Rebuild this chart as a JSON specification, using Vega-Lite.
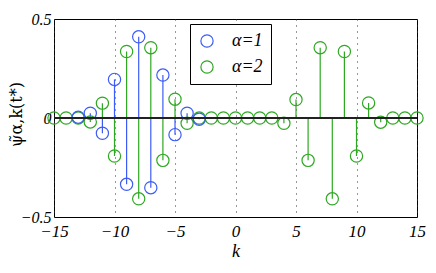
{
  "$schema": "https://vega.github.io/schema/vega-lite/v6.json",
  "autosize": {"type": "none"},
  "padding": {"left": 54, "top": 19, "right": 19, "bottom": 56},
  "width": 363,
  "height": 198,
  "background": "white",
  "data": {
    "values": [
      {"k": -15, "v": 0, "s": "α=2"}, {"k": -14, "v": 0, "s": "α=2"}, {"k": -13, "v": 0, "s": "α=2"},
      {"k": -12, "v": -0.02, "s": "α=2"}, {"k": -11, "v": 0.075, "s": "α=2"}, {"k": -10, "v": -0.192, "s": "α=2"},
      {"k": -9, "v": 0.336, "s": "α=2"}, {"k": -8, "v": -0.408, "s": "α=2"}, {"k": -7, "v": 0.355, "s": "α=2"},
      {"k": -6, "v": -0.214, "s": "α=2"}, {"k": -5, "v": 0.095, "s": "α=2"}, {"k": -4, "v": -0.027, "s": "α=2"},
      {"k": -3, "v": 0, "s": "α=2"}, {"k": -2, "v": 0, "s": "α=2"}, {"k": -1, "v": 0, "s": "α=2"},
      {"k": 0, "v": 0, "s": "α=2"}, {"k": 1, "v": 0, "s": "α=2"}, {"k": 2, "v": 0, "s": "α=2"},
      {"k": 3, "v": 0, "s": "α=2"}, {"k": 4, "v": -0.027, "s": "α=2"}, {"k": 5, "v": 0.093, "s": "α=2"},
      {"k": 6, "v": -0.214, "s": "α=2"}, {"k": 7, "v": 0.355, "s": "α=2"}, {"k": 8, "v": -0.408, "s": "α=2"},
      {"k": 9, "v": 0.336, "s": "α=2"}, {"k": 10, "v": -0.192, "s": "α=2"}, {"k": 11, "v": 0.076, "s": "α=2"},
      {"k": 12, "v": -0.021, "s": "α=2"}, {"k": 13, "v": 0, "s": "α=2"}, {"k": 14, "v": 0, "s": "α=2"},
      {"k": 15, "v": 0, "s": "α=2"},
      {"k": -13, "v": 0.004, "s": "α=1"},
      {"k": -12, "v": 0.024, "s": "α=1"}, {"k": -11, "v": -0.077, "s": "α=1"}, {"k": -10, "v": 0.195, "s": "α=1"},
      {"k": -9, "v": -0.335, "s": "α=1"}, {"k": -8, "v": 0.41, "s": "α=1"}, {"k": -7, "v": -0.352, "s": "α=1"},
      {"k": -6, "v": 0.217, "s": "α=1"}, {"k": -5, "v": -0.084, "s": "α=1"}, {"k": -4, "v": 0.024, "s": "α=1"},
      {"k": -3, "v": -0.006, "s": "α=1"}
    ]
  },
  "encoding": {
    "x": {
      "field": "k", "type": "quantitative",
      "scale": {"domain": [-15, 15], "nice": false, "zero": false},
      "axis": {
        "values": [-15, -10, -5, 0, 5, 10, 15],
        "grid": true, "gridColor": "#333", "gridDash": [1, 5], "gridWidth": 1,
        "domain": false, "ticks": false,
        "labelFont": "Liberation Serif", "labelFontStyle": "italic", "labelFontSize": 17, "labelColor": "black",
        "labelPadding": 6, "labelFlush": false,
        "title": "k", "titleFont": "Liberation Serif", "titleFontStyle": "italic", "titleFontWeight": "normal",
        "titleFontSize": 18, "titleColor": "black", "titlePadding": 3
      }
    },
    "y": {
      "field": "v", "type": "quantitative",
      "scale": {"domain": [-0.5, 0.5], "nice": false},
      "axis": {
        "values": [-0.5, 0, 0.5], "format": ".1~f",
        "grid": false, "domain": false, "ticks": false,
        "labelFont": "Liberation Serif", "labelFontStyle": "italic", "labelFontSize": 16, "labelColor": "black",
        "labelPadding": 3, "labelFlush": false,
        "title": "ψ̃α,k(t*)", "titleFont": "DejaVu Serif", "titleFontWeight": "normal",
        "titleFontSize": 16, "titleColor": "black", "titleX": -30, "titleY": 95
      }
    }
  },
  "layer": [
    {
      "mark": {"type": "rule", "strokeWidth": 1.2},
      "encoding": {
        "y2": {"datum": 0},
        "color": {"field": "s", "type": "nominal", "scale": {"domain": ["α=1", "α=2"], "range": ["#3d5cf5", "#2ea822"]}}
      }
    },
    {
      "mark": {"type": "point", "shape": "circle", "filled": false, "size": 150, "strokeWidth": 1.2, "opacity": 1},
      "encoding": {
        "color": {"field": "s", "type": "nominal", "scale": {"domain": ["α=1", "α=2"], "range": ["#3d5cf5", "#2ea822"]}}
      }
    },
    {
      "mark": {"type": "rule", "color": "#222", "strokeWidth": 1.3},
      "encoding": {"y": {"datum": 0}, "x": {"datum": -15}, "x2": {"datum": 15}}
    }
  ],
  "config": {
    "view": {"stroke": "black", "strokeWidth": 1},
    "font": "Liberation Serif",
    "legend": {
      "title": null, "orient": "none", "legendX": 136, "legendY": 5,
      "strokeColor": "black", "fillColor": "white", "padding": 8,
      "symbolType": "circle", "symbolSize": 150, "symbolStrokeWidth": 1.2, "symbolFillColor": "transparent",
      "labelFont": "Liberation Serif", "labelFontStyle": "italic", "labelFontSize": 18, "labelColor": "black",
      "labelOffset": 16, "rowPadding": 8, "offset": 0
    }
  }
}
